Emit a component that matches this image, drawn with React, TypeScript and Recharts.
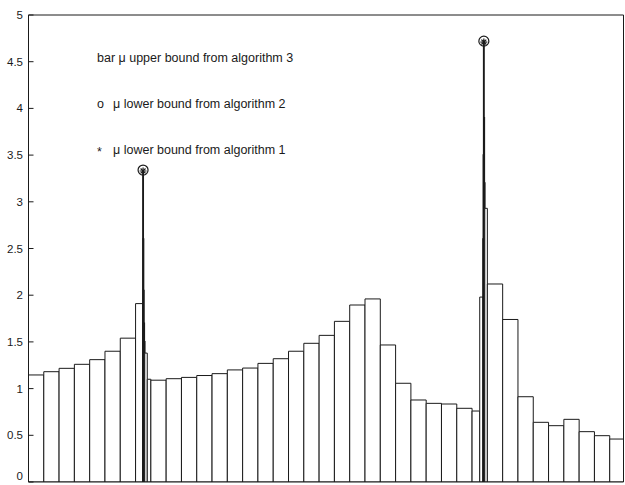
import React from 'react';
import { ComposedChart, XAxis, YAxis, ReferenceArea, ReferenceLine, Scatter } from 'recharts';

// bar edges in frequency-bin units; extra narrow bins around the two peaks
const binEdges = [
  0, 1, 2, 3, 4, 5, 6, 7,
  7.48, 7.5, 7.52, 7.54, 7.57, 7.6, 7.765, 8,
  9, 10, 11, 12, 13, 14, 15, 16, 17, 18, 19, 20, 21, 22, 23, 24, 25, 26, 27, 28, 29,
  29.5, 29.72, 29.74, 29.76, 29.78, 29.8, 29.83, 30,
  31, 32, 33, 34, 35, 36, 37, 38, 39,
];

// mu upper bound (algorithm 3), one value per bin
const muUpper = [
  1.146, 1.181, 1.217, 1.26, 1.31, 1.4, 1.54,
  1.91, 3.33, 2.6, 2.05, 1.7, 1.5, 1.38, 1.1,
  1.09, 1.106, 1.12, 1.14, 1.16, 1.2, 1.22, 1.27, 1.32, 1.4, 1.485, 1.57, 1.72, 1.895, 1.96,
  1.467, 1.057, 0.878, 0.842, 0.835, 0.789,
  0.76, 1.98, 2.6, 3.5, 4.72, 3.9, 3.2, 2.93,
  2.12, 1.74, 0.913, 0.639, 0.603, 0.671, 0.539, 0.496, 0.46,
];

// lower bounds at the peaks
const lowerAlg2 = [
  { x: 7.49, y: 3.34 },
  { x: 29.77, y: 4.72 },
];
const lowerAlg1 = [
  { x: 7.49, y: 3.33 },
  { x: 29.77, y: 4.71 },
];

const yTicks = [0, 0.5, 1, 1.5, 2, 2.5, 3, 3.5, 4, 4.5, 5];

const INK = '#1a1a1a';
const FONT = '"Liberation Sans", Arial, Helvetica, sans-serif';

const CircleMark = (p: any) => (
  <circle cx={p.cx} cy={p.cy} r={5} fill="none" stroke={INK} strokeWidth={1.2} />
);

const StarMark = (p: any) => {
  const r = 3.5;
  const d = r * 0.7;
  return (
    <g stroke={INK} strokeWidth={1.2}>
      <line x1={p.cx - r} y1={p.cy} x2={p.cx + r} y2={p.cy} />
      <line x1={p.cx} y1={p.cy - r} x2={p.cx} y2={p.cy + r} />
      <line x1={p.cx - d} y1={p.cy - d} x2={p.cx + d} y2={p.cy + d} />
      <line x1={p.cx - d} y1={p.cy + d} x2={p.cx + d} y2={p.cy - d} />
    </g>
  );
};

// tick label; the bottom one is lifted so it stays inside the window
const YTick = (p: any) => {
  const v = p.payload.value;
  return (
    <text
      x={p.x}
      y={p.y}
      dy={v === 0 ? -2 : 4}
      textAnchor="end"
      fill={INK}
      fontSize={11.5}
      fontFamily={FONT}
    >
      {String(v)}
    </text>
  );
};

const textStyle: React.CSSProperties = {
  position: 'absolute',
  fontFamily: FONT,
  fontSize: 12.5,
  lineHeight: '14px',
  color: INK,
  whiteSpace: 'nowrap',
};

const isNarrow = (i: number) => binEdges[i + 1] - binEdges[i] < 0.05;

export default function App() {
  return (
    <div style={{ position: 'absolute', left: 0, top: 0, width: 625, height: 485, overflow: 'hidden', background: '#fff' }}>
      <ComposedChart width={640} height={500} margin={{ top: 15, right: 0, left: 0, bottom: 0 }}>
        <XAxis
          dataKey="x"
          type="number"
          domain={[0, 38.9]}
          allowDataOverflow
          height={18}
          tick={false}
          tickLine={false}
          axisLine={{ stroke: INK }}
        />
        <YAxis
          yAxisId="left"
          type="number"
          domain={[0, 5]}
          ticks={yTicks}
          width={28.5}
          tickSize={-5}
          tickMargin={10.5}
          tick={YTick}
          axisLine={{ stroke: INK }}
          tickLine={{ stroke: INK }}
        />
        <YAxis
          yAxisId="right"
          orientation="right"
          type="number"
          domain={[0, 5]}
          ticks={yTicks}
          width={16.5}
          tickSize={-5}
          tickFormatter={() => ''}
          axisLine={{ stroke: INK }}
          tickLine={{ stroke: INK }}
        />
        <ReferenceLine yAxisId="left" y={5} stroke={INK} />
        {muUpper.map((v, i) => (
          <ReferenceArea
            key={`bar-${i}`}
            yAxisId="left"
            x1={binEdges[i]}
            x2={binEdges[i + 1]}
            y1={0}
            y2={v}
            fill="#fff"
            fillOpacity={1}
            stroke={INK}
            strokeWidth={isNarrow(i) ? 1.6 : 1}
            ifOverflow="hidden"
          />
        ))}
        <Scatter
          yAxisId="left"
          data={lowerAlg2}
          dataKey="y"
          shape={CircleMark}
          isAnimationActive={false}
        />
        <Scatter
          yAxisId="left"
          data={lowerAlg1}
          dataKey="y"
          shape={StarMark}
          isAnimationActive={false}
        />
      </ComposedChart>
      <div style={{ ...textStyle, left: 97, top: 51 }}>bar μ upper bound from algorithm 3</div>
      <div style={{ ...textStyle, left: 97, top: 97 }}>o</div>
      <div style={{ ...textStyle, left: 113, top: 97 }}>μ lower bound from algorithm 2</div>
      <div style={{ ...textStyle, left: 97, top: 145 }}>*</div>
      <div style={{ ...textStyle, left: 113, top: 143 }}>μ lower bound from algorithm 1</div>
    </div>
  );
}
